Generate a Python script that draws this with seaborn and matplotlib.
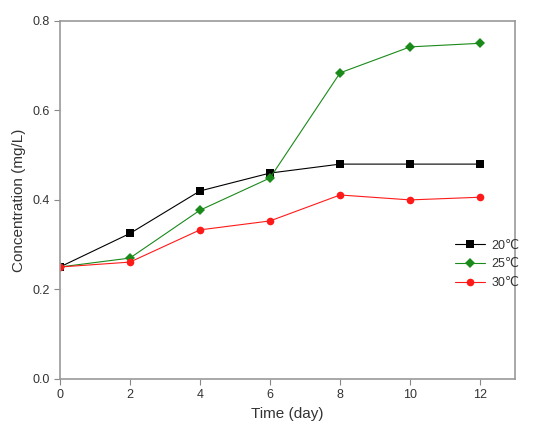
import matplotlib
matplotlib.use("Agg")
import matplotlib.pyplot as plt
import seaborn as sns
import pandas as pd

days = [0, 2, 4, 6, 8, 10, 12]
c20 = [0.250, 0.325, 0.420, 0.460, 0.480, 0.480, 0.480]
c25 = [0.250, 0.270, 0.377, 0.449, 0.684, 0.742, 0.750]
c30 = [0.250, 0.261, 0.333, 0.353, 0.411, 0.400, 0.406]
labels = ["20\u2103", "25\u2103", "30\u2103"]

df = pd.DataFrame({
    "day": days * 3,
    "conc": c20 + c25 + c30,
    "temp": [labels[0]] * 7 + [labels[1]] * 7 + [labels[2]] * 7,
})

sns.set_theme(style="white")
plt.rcParams['font.family'] = ['Liberation Sans', 'DejaVu Sans']

fig = plt.figure(figsize=(5.54, 4.36), dpi=100)
ax = fig.add_axes([0.108, 0.131, 0.822, 0.821])

palette = {labels[0]: "black", labels[1]: "#1a8a1a", labels[2]: "#ff1a1a"}
markers = {labels[0]: "s", labels[1]: "D", labels[2]: "o"}
sns.lineplot(data=df, x="day", y="conc", hue="temp", style="temp",
             palette=palette, markers=markers, dashes=False,
             markersize=5.5, linewidth=0.8, markeredgewidth=0, ax=ax)

ax.set_xlim(0, 13)
ax.set_ylim(0, 0.8)
ax.set_xticks([0, 2, 4, 6, 8, 10, 12])
ax.set_yticks([0.0, 0.2, 0.4, 0.6, 0.8])
ax.set_yticklabels(["0.0", "0.2", "0.4", "0.6", "0.8"])
ax.set_xlabel("Time (day)", fontsize=11, color="#333333")
ax.set_ylabel("Concentration (mg/L)", fontsize=11, color="#333333")
ax.tick_params(axis="both", direction="out", length=4, width=0.8,
               color="#888888", labelsize=9, labelcolor="#333333",
               bottom=True, left=True)
for s in ax.spines.values():
    s.set_color("#999999")
    s.set_linewidth(1.2)

leg = ax.legend(loc="center left", bbox_to_anchor=(0.855, 0.32),
                frameon=False, fontsize=9, handlelength=2.4,
                labelspacing=0.55, handletextpad=0.5, borderpad=0)
for t in leg.get_texts():
    t.set_color("#333333")

fig.savefig("out.png", dpi=100)
